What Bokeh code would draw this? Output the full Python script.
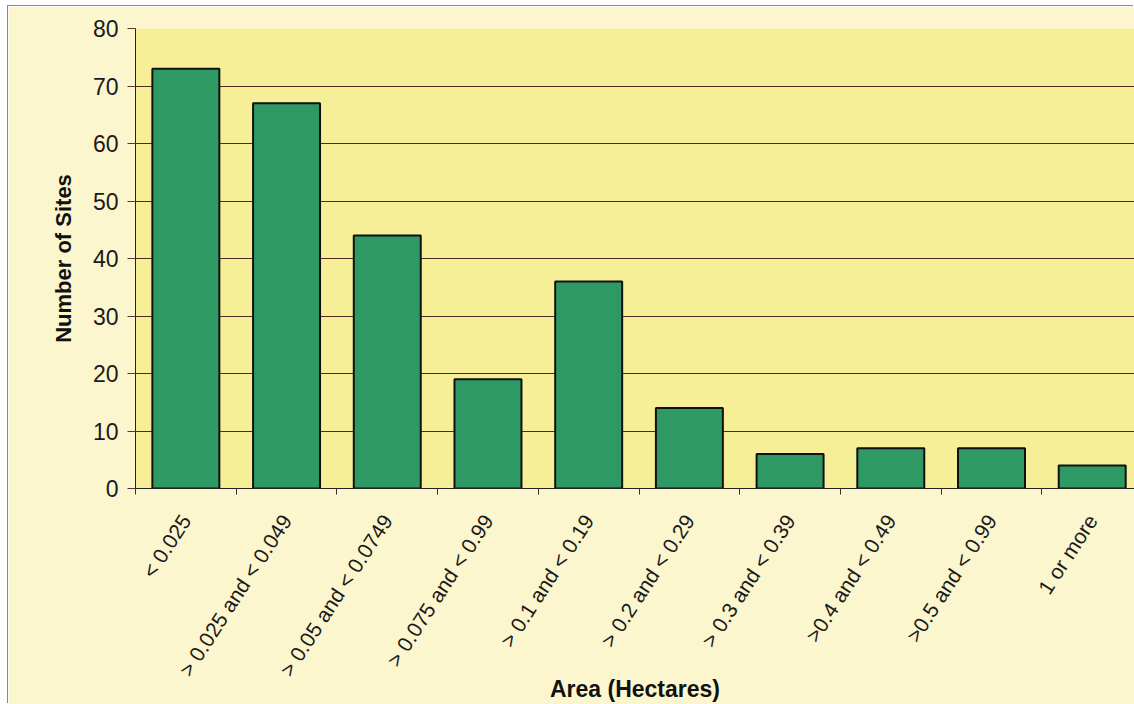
import math
from bokeh.plotting import figure
from bokeh.models import Range1d, FixedTicker
from bokeh.embed import file_html
from bokeh.resources import INLINE

# Site counts by area class
categories = [
    "< 0.025",
    "> 0.025 and < 0.049",
    "> 0.05 and < 0.0749",
    "> 0.075 and < 0.99",
    "> 0.1 and < 0.19",
    "> 0.2 and < 0.29",
    "> 0.3 and < 0.39",
    ">0.4 and < 0.49",
    ">0.5 and < 0.99",
    "1 or more",
]
site_counts = [73, 67, 44, 19, 36, 14, 6, 7, 7, 4]
y_ticks = [0, 10, 20, 30, 40, 50, 60, 70, 80]

FONT = "Liberation Sans"
centers = [i + 0.5 for i in range(len(categories))]
bounds = list(range(len(categories) + 1))

p = figure(
    width=1126, height=698,
    x_range=Range1d(0, 9.92), y_range=Range1d(0, 80),
    output_backend="svg", toolbar_location=None,
    min_border_left=127, min_border_right=0,
    min_border_top=22, min_border_bottom=216,
)
p.margin = (6, 0, 0, 8)
p.styles = {"box-shadow": "-1px -1px 0 0 #A9806E"}
p.background_fill_color = "#F6EF98"
p.border_fill_color = "#FBF6CE"
p.outline_line_color = None

p.vbar(x=centers, top=site_counts, width=0.665, bottom=0,
       fill_color="#2F9963", line_color="#111111", line_width=2)

# horizontal grid
p.xgrid.grid_line_color = None
p.ygrid.ticker = FixedTicker(ticks=y_ticks)
p.ygrid.grid_line_color = "#4E2A20"
p.ygrid.grid_line_width = 1

# y axis
p.yaxis.ticker = FixedTicker(ticks=y_ticks)
p.yaxis.axis_label = "Number of Sites"
p.yaxis.axis_label_text_font = FONT
p.yaxis.axis_label_text_font_style = "bold"
p.yaxis.axis_label_text_font_size = "22px"
p.yaxis.axis_label_text_color = "#111111"
p.yaxis.axis_label_standoff = 14
p.yaxis.major_label_text_font = FONT
p.yaxis.major_label_text_font_size = "23px"
p.yaxis.major_label_text_color = "#1a1a1a"
p.yaxis.major_label_standoff = 9
p.yaxis.major_tick_out = 8
p.yaxis.major_tick_in = 0
p.yaxis.minor_tick_line_color = None
p.yaxis.axis_line_color = "#222222"
p.yaxis.major_tick_line_color = "#5A3428"

# x axis: labels at category centres, ticks at category boundaries
p.xaxis.ticker = FixedTicker(ticks=centers, minor_ticks=bounds)
p.xaxis.major_label_overrides = {c: lab for c, lab in zip(centers, categories)}
p.xaxis.major_label_orientation = math.radians(57)
p.xaxis.major_label_text_font = FONT
p.xaxis.major_label_text_font_size = "21px"
p.xaxis.major_label_text_color = "#1a1a1a"
p.xaxis.major_label_standoff = 22
p.xaxis.major_tick_line_color = None
p.xaxis.minor_tick_out = 6
p.xaxis.minor_tick_in = 0
p.xaxis.minor_tick_line_color = "#333333"
p.xaxis.axis_line_color = "#222222"
p.xaxis.axis_label = "Area (Hectares)"
p.xaxis.axis_label_text_font = FONT
p.xaxis.axis_label_text_font_style = "bold"
p.xaxis.axis_label_text_font_size = "23px"
p.xaxis.axis_label_text_color = "#111111"
p.xaxis.axis_label_standoff = -14

open("out.html", "w").write(file_html(p, INLINE))
